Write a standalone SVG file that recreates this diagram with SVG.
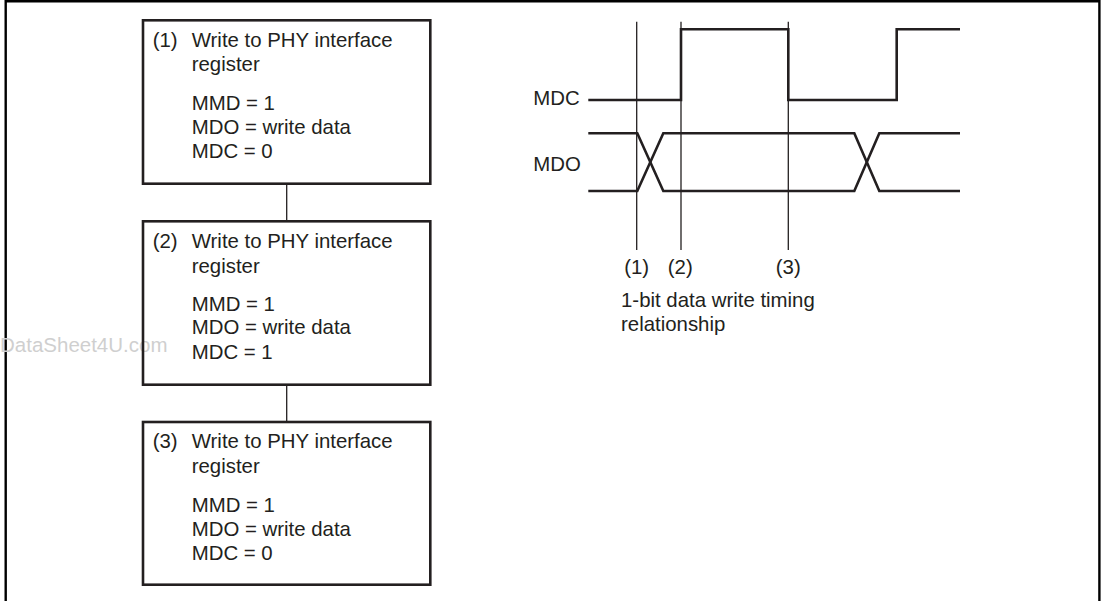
<svg xmlns="http://www.w3.org/2000/svg" width="1103" height="601" viewBox="0 0 1103 601">
<style>
text{font-family:"Liberation Sans",Arial,sans-serif;font-size:20.4px;fill:#231f20}
.box{fill:none;stroke:#231f20;stroke-width:2.6}
.thin{fill:none;stroke:#231f20;stroke-width:1.3}
.wave{fill:none;stroke:#231f20;stroke-width:2.6;stroke-linejoin:miter}
.frame{fill:none;stroke:#000;stroke-width:2.4}
.wm{fill:#cfcfcf;font-size:20.5px}
</style>
<rect width="1103" height="601" fill="#fff"/>
<g id="frame">
<path class="frame" d="M5.7 610 V1.2 H1099.4 V610"/>
</g>
<text class="wm" x="0" y="352">DataSheet4U.com</text>
<g id="connectors">
<line class="thin" x1="286.7" y1="184" x2="286.7" y2="221"/>
<line class="thin" x1="286.7" y1="385" x2="286.7" y2="422"/>
</g>
<g id="node1">
<rect class="box" x="143" y="20.3" width="287.3" height="163.4"/>
<text x="152.7" y="46.7">(1)</text>
<text x="191.7" y="46.7">Write to PHY interface</text>
<text x="191.7" y="70.7">register</text>
<text x="191.7" y="110">MMD = 1</text>
<text x="191.7" y="133.5">MDO = write data</text>
<text x="191.7" y="157.7">MDC = 0</text>
</g>
<g id="node2">
<rect class="box" x="143" y="221.3" width="287.3" height="163.4"/>
<text x="152.7" y="248.3">(2)</text>
<text x="191.7" y="248.3">Write to PHY interface</text>
<text x="191.7" y="272.5">register</text>
<text x="191.7" y="310.5">MMD = 1</text>
<text x="191.7" y="334.3">MDO = write data</text>
<text x="191.7" y="359">MDC = 1</text>
</g>
<g id="node3">
<rect class="box" x="143" y="422" width="287.3" height="162.7"/>
<text x="152.7" y="448.3">(3)</text>
<text x="191.7" y="448.3">Write to PHY interface</text>
<text x="191.7" y="473">register</text>
<text x="191.7" y="511.7">MMD = 1</text>
<text x="191.7" y="535.7">MDO = write data</text>
<text x="191.7" y="560">MDC = 0</text>
</g>
<g id="timing">
<line class="thin" x1="636.7" y1="21.7" x2="636.7" y2="250"/>
<line class="thin" x1="681" y1="21.7" x2="681" y2="250"/>
<line class="thin" x1="788.3" y1="21.7" x2="788.3" y2="250"/>
<path class="wave" d="M588.3 100 H681 V29.3 H788.3 V100 H896.7 V29.3 H960"/>
<path class="wave" d="M588.3 133.3 H637.3 L663.3 191 H854.3 L879.3 133.3 H960"/>
<path class="wave" d="M588.3 191 H637.3 L663.3 133.3 H854.3 L879.3 191 H960"/>
<text x="533.3" y="105">MDC</text>
<text x="533.3" y="171">MDO</text>
<text x="636.7" y="273.5" text-anchor="middle">(1)</text>
<text x="680.3" y="273.5" text-anchor="middle">(2)</text>
<text x="788.3" y="273.5" text-anchor="middle">(3)</text>
<text x="621" y="306.5">1-bit data write timing</text>
<text x="621" y="330.7">relationship</text>
</g>
</svg>
